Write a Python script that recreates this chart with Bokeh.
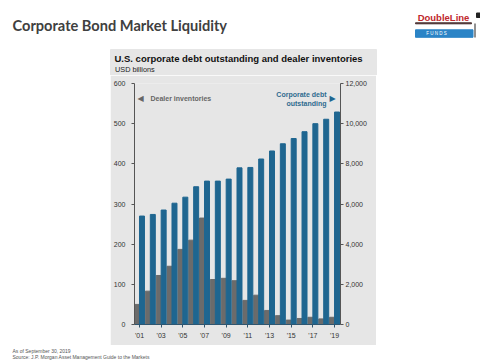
from bokeh.plotting import figure
from bokeh.models import (Range1d, LinearAxis, FixedTicker, NumeralTickFormatter,
                          Label, Spacer)
from bokeh.layouts import column, row
from bokeh.core.properties import value
from bokeh.embed import file_html
from bokeh.resources import INLINE

years = list(range(2001, 2020))
dealer_inventories = [50, 83, 122, 145, 187, 210, 265, 112, 115, 109, 60, 73, 35, 22, 11, 15, 18, 14, 18]
corporate_debt = [5400, 5480, 5700, 6040, 6340, 6860, 7140, 7140, 7240, 7800, 7820, 8240,
                  8640, 9000, 9260, 9600, 10000, 10220, 10580]
left_ticks = [0, 100, 200, 300, 400, 500, 600]
right_ticks = [0, 2000, 4000, 6000, 8000, 10000, 12000]
year_ticks = [2001, 2003, 2005, 2007, 2009, 2011, 2013, 2015, 2017, 2019]
year_labels = {y: "'" + str(y)[2:] for y in year_ticks}

PANEL = "#e6e6e6"
BLUE = "#1f6690"
GRAY = "#6b6b6b"
FONT = "Liberation Sans"


def canvas_fig(w, h):
    f = figure(width=w, height=h, output_backend="svg", toolbar_location=None,
               x_range=Range1d(0, w), y_range=Range1d(h, 0),
               x_axis_location=None, y_axis_location=None,
               min_border=0, min_border_left=0, min_border_right=0,
               min_border_top=0, min_border_bottom=0,
               background_fill_color="white", border_fill_color="white",
               outline_line_color=None)
    f.grid.visible = False
    return f


def txt(f, x, y, text, size, color, font=FONT, style="normal", align="left",
        baseline="middle"):
    f.text(x=[x], y=[y], text=[text], text_font=value(font), text_font_size=value(size),
           text_color=color, text_font_style=style, text_align=align, text_baseline=baseline)


# ---------------- header (page y 0..75) ----------------
head = canvas_fig(480, 75)
txt(head, 12, 25, "Corporate Bond Market Liquidity", "14.6px", "#404040", font="Lato",
    style="bold", baseline="alphabetic")
# logo
txt(head, 443, 16.5, "DoubleLine", "9.5px", "#c0282d", style="bold", align="center")
head.quad(left=[415], right=[471], top=[22.3], bottom=[23.3], color="#4a3030")
head.quad(left=[415], right=[472.5], top=[29.3], bottom=[36.8], color="#2b84c6")
txt(head, 443.5, 33, "F    U    N    D    S", "4.5px", "white", align="center")
head.quad(left=[476], right=[480], top=[12.5], bottom=[17], color="#222222")
head.segment(x0=[474.5], y0=[23], x1=[474.5], y1=[37], line_color="#222222", line_width=1)
# top of the chart panel
head.quad(left=[110], right=[376], top=[49], bottom=[75], color=PANEL)
txt(head, 114, 58, "U.S. corporate debt outstanding and dealer inventories", "9.5px",
    "#111111", style="bold")
txt(head, 114.5, 68.5, "USD billions", "7.3px", "#222222")

# ---------------- chart (page x 110..376, y 75..345) ----------------
p = figure(width=266, height=270, output_backend="svg", toolbar_location=None,
           x_range=Range1d(2000.54, 2019.55), y_range=Range1d(0, 600),
           min_border_left=23, min_border_right=36, min_border_top=8, min_border_bottom=21,
           background_fill_color=PANEL, border_fill_color=PANEL, outline_line_color=None)
p.extra_y_ranges = {"right": Range1d(0, 12000)}
p.grid.visible = False

p.vbar(x=[y - 0.23 for y in years], top=dealer_inventories, width=0.46, color=GRAY)
p.vbar(x=[y + 0.23 for y in years], top=corporate_debt, width=0.46, color=BLUE,
       y_range_name="right")

xa = p.xaxis[0]
xa.ticker = FixedTicker(ticks=year_ticks)
xa.major_label_overrides = year_labels
xa.axis_line_color = "#2f5670"
xa.major_tick_line_color = "#2f5670"
xa.major_tick_out = 3
xa.major_tick_in = 0
xa.minor_tick_line_color = None
xa.major_label_text_font = FONT
xa.major_label_text_font_size = "7px"
xa.major_label_text_color = "#333333"
xa.major_label_standoff = 4

ya = p.yaxis[0]
ya.ticker = FixedTicker(ticks=left_ticks)
ya.axis_line_color = "#555555"
ya.major_tick_line_color = "#555555"
ya.major_tick_out = 3
ya.major_tick_in = 0
ya.minor_tick_line_color = None
ya.major_label_text_font = FONT
ya.major_label_text_font_size = "7px"
ya.major_label_text_color = "#333333"
ya.major_label_standoff = 6

ra = LinearAxis(y_range_name="right", ticker=FixedTicker(ticks=right_ticks),
                formatter=NumeralTickFormatter(format="0,0"))
ra.axis_line_color = "#555555"
ra.major_tick_line_color = "#555555"
ra.major_tick_out = 3
ra.major_tick_in = 0
ra.minor_tick_line_color = None
ra.major_label_text_font = FONT
ra.major_label_text_font_size = "7px"
ra.major_label_text_color = "#333333"
ra.major_label_standoff = 2
p.add_layout(ra, "right")


def lab(x, y, text, size, color, font=FONT, style="normal", align="left"):
    # x, y given in page pixels; chart canvas starts at page (110, 75)
    p.add_layout(Label(x=x - 110, y=y - 75, x_units="canvas", y_units="canvas", text=text,
                       text_font=font, text_font_size=size, text_color=color,
                       text_font_style=style, text_align=align, text_baseline="middle"))


lab(137, 98, "◀", "8px", "#666666", font="DejaVu Sans")
lab(150, 98, "Dealer inventories", "7px", "#666666", style="bold")
lab(326, 94, "Corporate debt", "7px", "#2f6b8f", style="bold", align="right")
lab(326, 102.5, "outstanding", "7px", "#2f6b8f", style="bold", align="right")
lab(329, 98, "▶", "8px", "#1f6690", font="DejaVu Sans")

middle = row(Spacer(width=110, height=270), p, Spacer(width=104, height=270))

# ---------------- footer (page y 345..360) ----------------
foot = canvas_fig(480, 15)
txt(foot, 12, 5.5, "As of September 30, 2019", "5px", "#555555")
txt(foot, 12, 11, "Source: J.P. Morgan Asset Management Guide to the Markets", "5px",
    "#555555")

page = column(head, middle, foot)

open("out.html", "w").write(file_html(page, INLINE))
